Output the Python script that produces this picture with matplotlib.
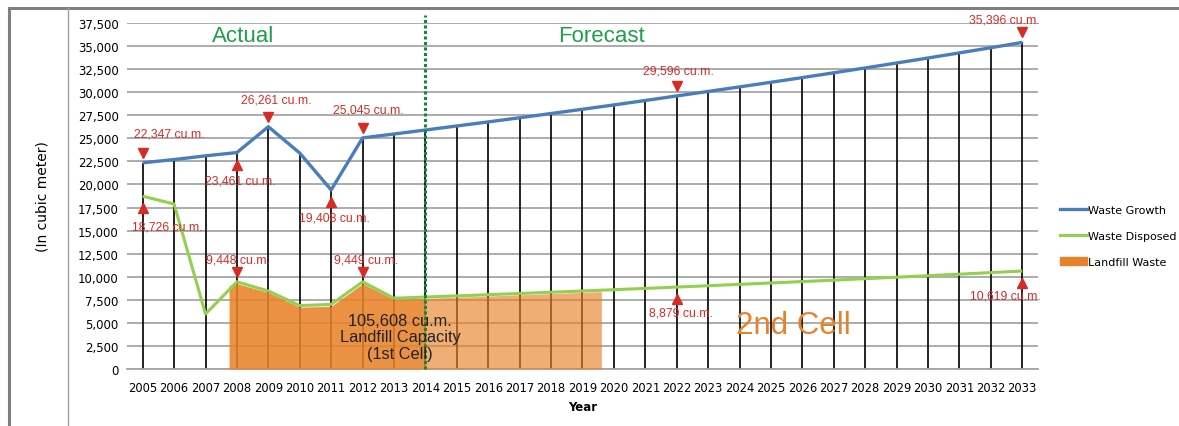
import matplotlib.pyplot as plt
import matplotlib.transforms as mtrans
from matplotlib.lines import Line2D
from matplotlib.patches import Patch

# Data
years = list(range(2005, 2034))
waste_growth = [22347, 22700, 23100, 23461, 26261, 23400, 19408, 25045, 25470, 25900,
                26340, 26780, 27230, 27690, 28150, 28620, 29100, 29596, 30081, 30574,
                31075, 31585, 32103, 32629, 33164, 33708, 34261, 34823, 35396]
waste_disposed = [18726, 17880, 5960, 9448, 8450, 6870, 7000, 9449, 7670, 7796,
                  7924, 8054, 8186, 8320, 8456, 8595, 8736, 8879, 9025, 9173,
                  9323, 9476, 9631, 9789, 9949, 10112, 10278, 10447, 10619]

# landfill shape (1st cell), dark part is actual, light part forecast
landfill_x_actual = [2007.75, 2008, 2009, 2010, 2011, 2012, 2013, 2014]
landfill_y_actual = [9050, 9250, 8300, 6700, 6800, 9250, 7550, 7650]
landfill_x_fc = [2014, 2015, 2016, 2017, 2018, 2019, 2019.6]
landfill_y_fc = [7650, 7780, 7910, 8040, 8170, 8310, 8390]

# labels: (year, series, text, text dx px, text dy px, marker)
labels = [
    (2005, 'g', '22,347 cu.m.', 27, 29, 'v'),
    (2009, 'g', '26,261 cu.m.', 8, 27, 'v'),
    (2012, 'g', '25,045 cu.m.', 6, 28, 'v'),
    (2022, 'g', '29,596 cu.m.', 2, 25, 'v'),
    (2033, 'g', '35,396 cu.m.', -18, 23, 'v'),
    (2008, 'g', '23,461 cu.m.', 3, -28, '^'),
    (2011, 'g', '19,408 cu.m.', 3, -28, '^'),
    (2005, 'd', '18,726 cu.m.', 25, -30, '^'),
    (2008, 'd', '9,448 cu.m.', 1, 22, 'v'),
    (2012, 'd', '9,449 cu.m.', 3, 22, 'v'),
    (2022, 'd', '8,879 cu.m.', 4, -25, '^'),
    (2033, 'd', '10,619 cu.m.', -17, -24, '^'),
]

blue = '#4A7EBB'
green = '#92D050'
orange = '#E8822A'
red = '#D92B26'

fig = plt.figure(figsize=(11.79, 4.27), dpi=100)
ax = fig.add_axes([0.1077, 0.1335, 0.7727, 0.8103])

ax.set_xlim(2004.5, 2033.5)
ax.set_ylim(0, 37500)
ax.set_yticks(range(0, 37501, 2500))
ax.set_yticklabels(['{:,}'.format(v) for v in range(0, 37501, 2500)], fontsize=8.5)
ax.set_xticks(years)
ax.set_xticklabels([str(y) for y in years], fontsize=8.3)
ax.tick_params(length=0, pad=6)
ax.tick_params(axis='x', pad=9)
ax.yaxis.grid(True, color='#A6A6A6', lw=1.3)
ax.set_axisbelow(True)
for s in ['top', 'right', 'left']:
    ax.spines[s].set_visible(False)
ax.spines['bottom'].set_color('#A6A6A6')
ax.spines['bottom'].set_linewidth(1.3)

# drop lines
ax.vlines(years, 0, waste_growth, color='#111111', lw=1.3, zorder=2)

ax.fill_between(landfill_x_actual, 0, landfill_y_actual, color=orange, alpha=0.88, lw=0, zorder=3)
ax.fill_between(landfill_x_fc, 0, landfill_y_fc, color=orange, alpha=0.65, lw=0, zorder=3)

ax.plot(years, waste_growth, color=blue, lw=2.4, zorder=4, solid_capstyle='butt')
ax.plot(years, waste_disposed, color=green, lw=2.2, zorder=4, solid_capstyle='butt')

# actual / forecast separator
ax.plot([2014, 2014], [0, 38400], color='#128A3C', lw=2.2, ls=(0, (1, 0.8)), zorder=5, clip_on=False)
ax.text(2008.2, 36100, 'Actual', color='#1E9E4A', fontsize=16, ha='center', va='center',
        family='Liberation Sans')
ax.text(2019.6, 36100, 'Forecast', color='#1E9E4A', fontsize=16, ha='center', va='center',
        family='Liberation Sans')

for yr, ser, txt, dx, dy, mk in labels:
    vals = waste_growth if ser == 'g' else waste_disposed
    v = vals[years.index(yr)]
    mdy = 10 if mk == 'v' else -12
    shift = mtrans.ScaledTranslation(0, mdy / 100, fig.dpi_scale_trans)
    ax.plot([yr], [v], marker=mk, ms=6.5, color=red, ls='none', zorder=6,
            transform=ax.transData + shift)
    ax.annotate(txt, (yr, v), xytext=(dx * 0.72, dy * 0.72), textcoords='offset points',
                ha='center', va='center', color=red, fontsize=8.8, family='Liberation Sans', zorder=6)

ax.text(2013.2, 3500, '105,608 cu.m.\nLandfill Capacity\n(1st Cell)', ha='center', va='center',
        fontsize=11.8, color='#222222', family='Liberation Sans', linespacing=1.12, zorder=6)
ax.text(2025.7, 4800, '2nd Cell', ha='center', va='center', fontsize=22.5, color=orange,
        family='Liberation Sans', zorder=6)

ax.set_ylabel('(In cubic meter)', fontsize=10)
ax.yaxis.set_label_coords(-0.085, 0.5)
ax.set_xlabel('Year', fontsize=8.5, fontweight='bold', labelpad=4)

handles = [Line2D([], [], color=blue, lw=2.4), Line2D([], [], color=green, lw=2.2),
           Patch(color=orange)]
fig.legend(handles, ['Waste Growth', 'Waste Disposed', 'Landfill Waste'],
           loc='center left', bbox_to_anchor=(0.891, 0.445), frameon=False, fontsize=8,
           handlelength=2.4, handletextpad=0.1, labelspacing=1.45)

# outer frame
fig.add_artist(Line2D([9 / 1179, 9 / 1179], [0, 1 - 9 / 427], color='#7F7F7F', lw=2.2))
fig.add_artist(Line2D([9 / 1179, 1], [1 - 9 / 427, 1 - 9 / 427], color='#7F7F7F', lw=2.2))
fig.add_artist(Line2D([68 / 1179, 68 / 1179], [0, 1 - 9 / 427], color='#A0A0A0', lw=1.0))

fig.savefig('out.png', dpi=100)
